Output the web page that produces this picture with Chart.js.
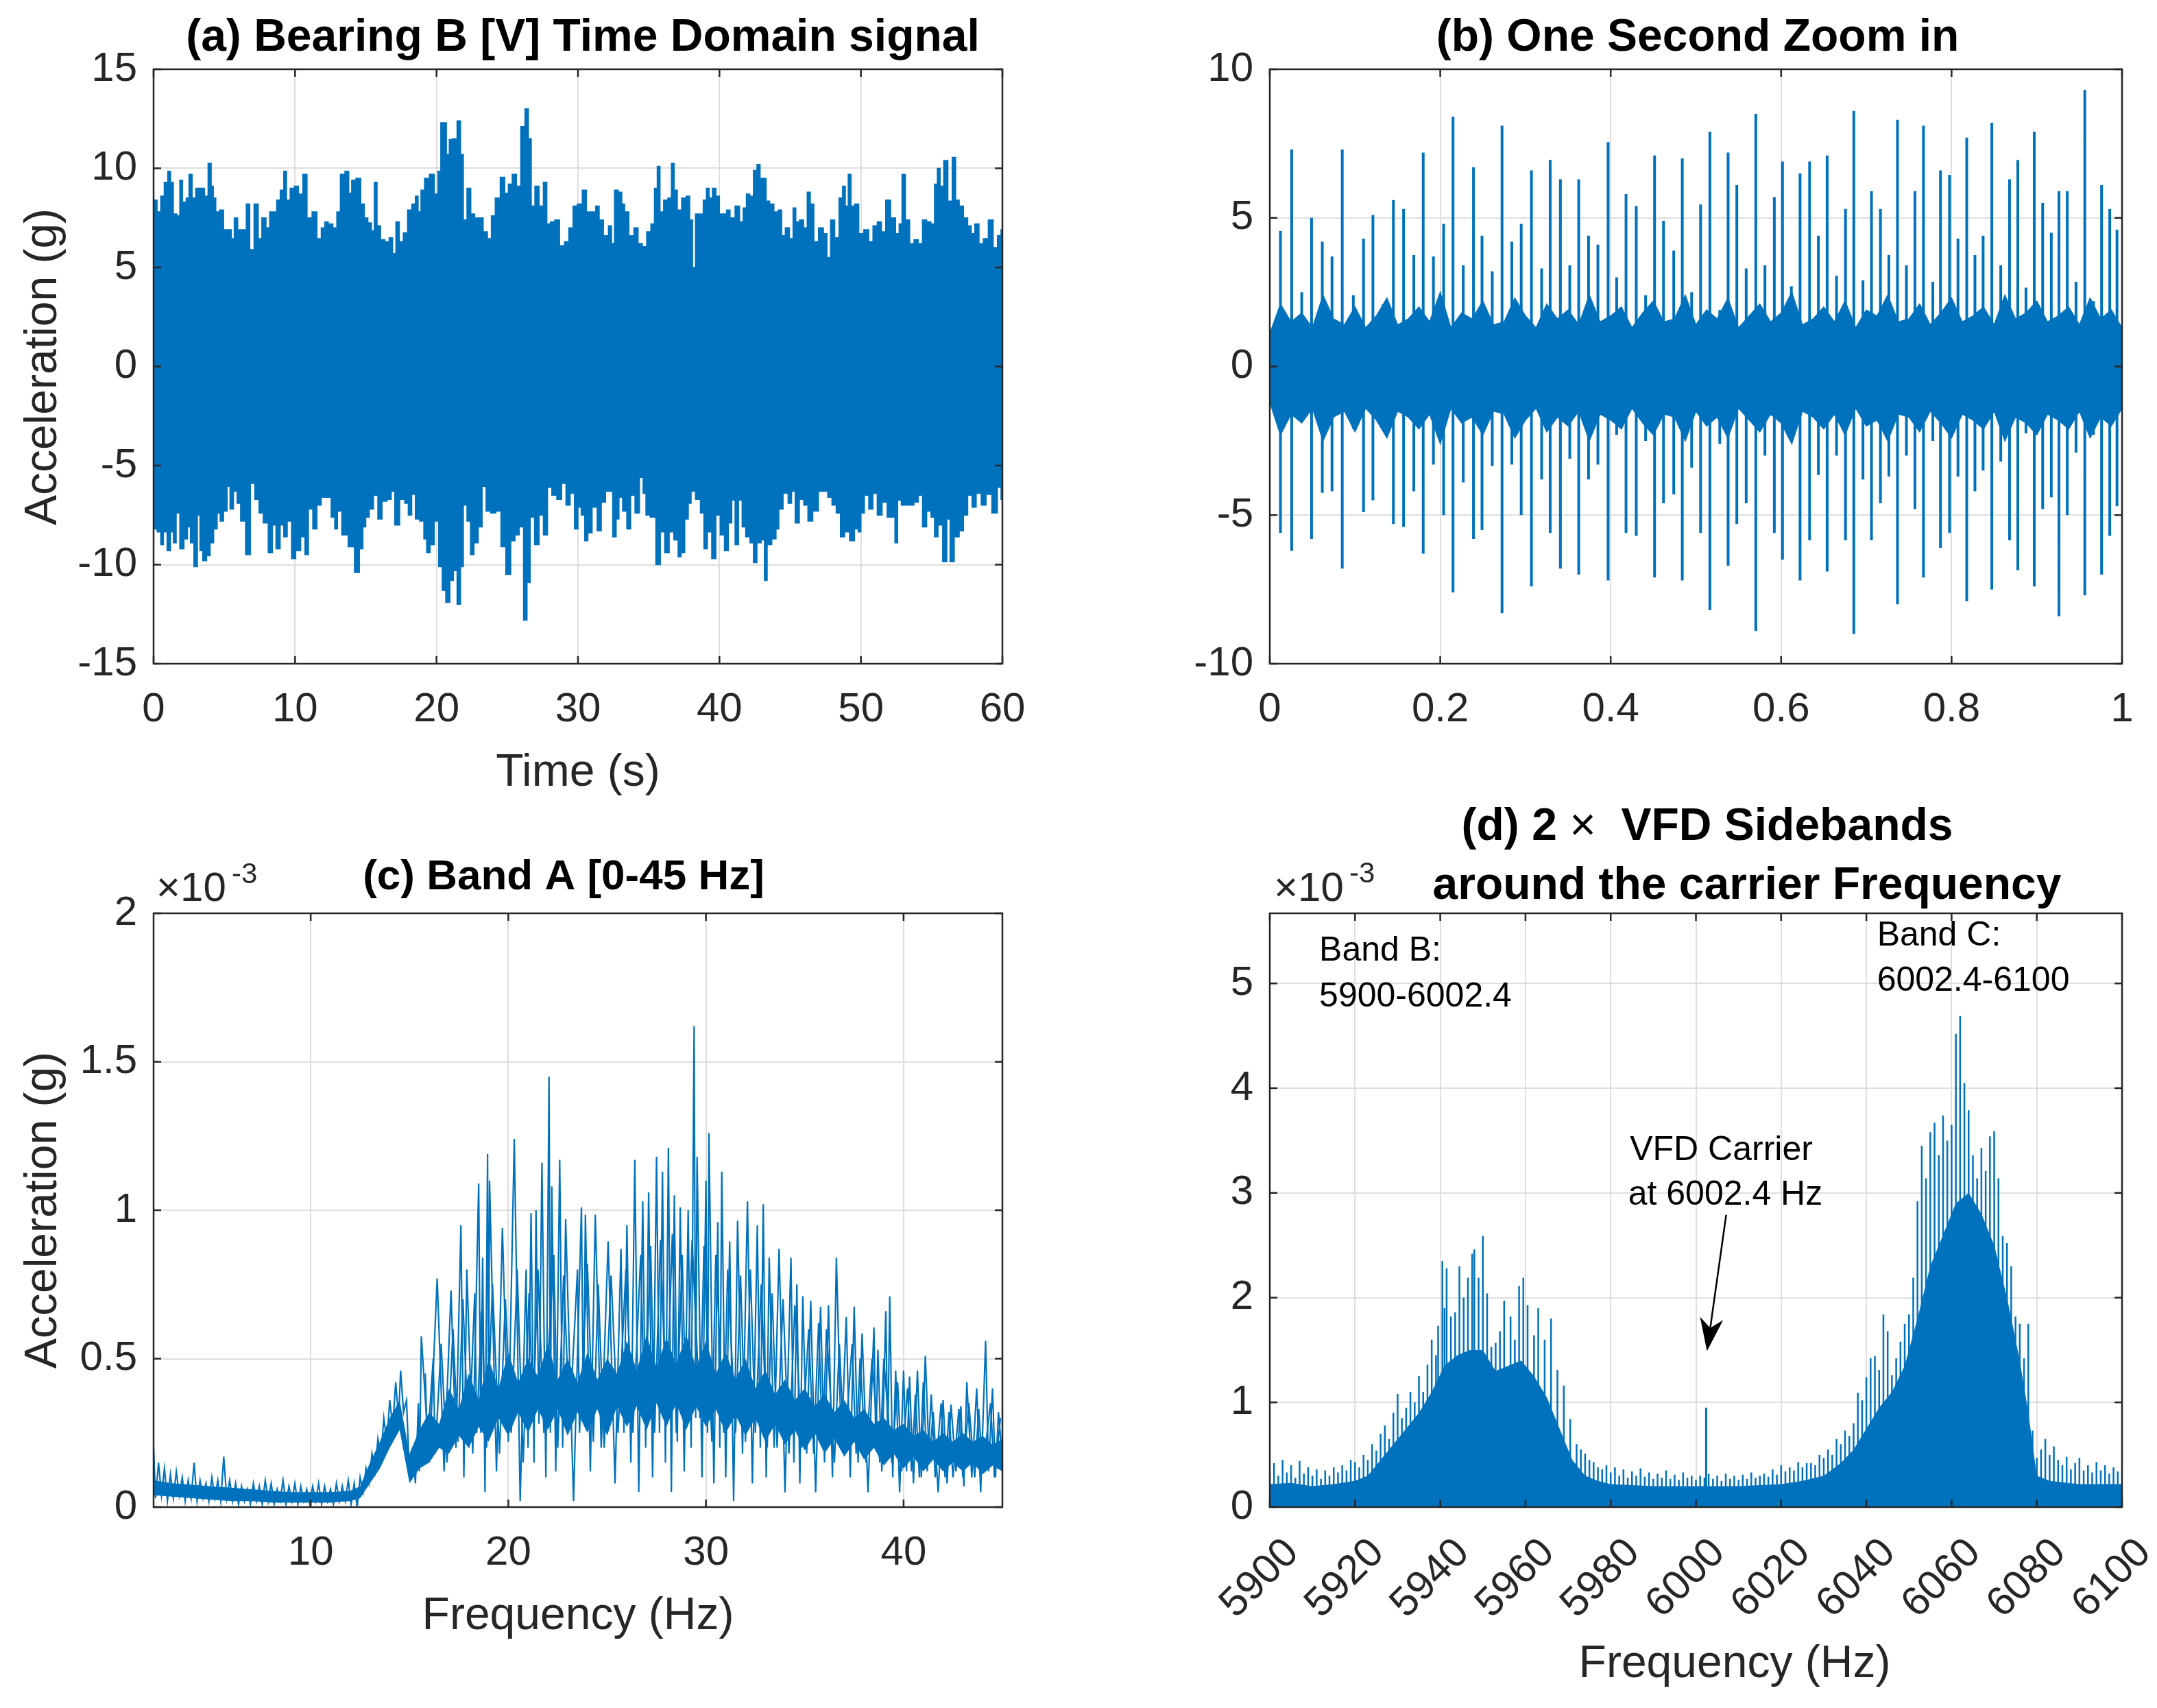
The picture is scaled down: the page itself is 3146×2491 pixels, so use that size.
<!DOCTYPE html>
<html>
<head>
<meta charset="utf-8">
<script src="https://cdn.jsdelivr.net/npm/chart.js@4.4.1/dist/chart.umd.min.js"></script>
<style>
  html, body { margin: 0; padding: 0; background: #fff; }
  body { width: 3146px; height: 2491px; position: relative; overflow: hidden; }
  canvas { position: absolute; }
</style>
</head>
<body>
<canvas id="chartA"></canvas>
<canvas id="chartB"></canvas>
<canvas id="chartC"></canvas>
<canvas id="chartD"></canvas>
<script>
// ---- data ----

// (a) 60 s record: upper / lower envelope of the signal, [time s, acc g]
const aUpper = [[0,7.3],[0.1,8.4],[0.4,7.8],[0.6,8.6],[0.9,9.3],[1.1,9.85],[1.3,9.3],[1.5,7.7],[1.8,7.6],[1.9,9.4],[2.2,8.3],[2.4,8.5],[2.6,9.7],[2.85,8.5],[3.1,9.0],[3.5,9.0],[3.7,8.6],[4.0,10.25],[4.15,9.1],[4.3,8.5],[4.5,7.8],[4.8,7.9],[5.1,6.9],[5.4,6.9],[5.6,6.45],[5.8,7.5],[6.1,6.9],[6.4,6.9],[6.7,8.2],[6.9,5.9],[7.3,8.2],[7.5,6.45],[7.8,7.5],[8.1,7.0],[8.3,7.8],[8.6,7.8],[8.8,8.4],[9.1,8.9],[9.3,9.85],[9.5,8.4],[9.8,9.0],[10.1,9.1],[10.4,8.7],[10.7,9.7],[11.0,7.5],[11.4,7.8],[11.7,6.45],[12.0,7.0],[12.2,7.3],[12.5,7.2],[12.85,7.0],[13.05,7.8],[13.35,9.7],[13.7,9.85],[13.9,8.75],[14.1,9.4],[14.5,9.5],[14.8,8.2],[15.0,7.5],[15.3,7.25],[15.5,6.85],[15.7,9.3],[15.9,7.1],[16.2,6.4],[16.5,6.3],[16.8,6.5],[17.0,5.7],[17.25,7.3],[17.5,6.3],[17.8,6.75],[18.1,7.9],[18.4,8.2],[18.6,8.6],[18.8,7.8],[19.0,8.9],[19.3,9.5],[19.7,9.7],[20.0,8.7],[20.2,9.85],[20.4,12.3],[20.6,12.3],[20.8,10.7],[21.0,11.45],[21.3,11.5],[21.6,12.4],[21.8,10.7],[22.0,7.4],[22.3,9.0],[22.55,7.7],[22.85,7.5],[23.15,7.5],[23.45,6.8],[23.75,6.45],[24.0,7.6],[24.3,8.5],[24.7,9.55],[24.95,8.75],[25.2,9.2],[25.5,9.7],[25.8,9.1],[26.1,12.1],[26.4,13.0],[26.6,11.5],[26.8,8.1],[27.1,9.1],[27.4,8.1],[27.7,9.3],[27.9,7.2],[28.2,7.3],[28.5,7.4],[28.9,6.1],[29.2,6.3],[29.5,7.0],[29.8,8.1],[30.1,8.2],[30.5,8.9],[30.7,7.8],[31.1,7.8],[31.4,8.1],[31.6,7.4],[32.0,6.6],[32.3,7.1],[32.45,6.2],[32.7,8.9],[33.0,8.8],[33.2,8.2],[33.4,7.8],[33.8,6.6],[34.1,7.0],[34.4,6.2],[34.7,6.05],[35.0,6.8],[35.3,7.2],[35.5,9.0],[35.7,10.1],[35.9,7.8],[36.2,8.4],[36.5,8.5],[36.7,10.25],[36.9,8.9],[37.15,7.9],[37.5,8.5],[37.8,8.6],[38.0,7.4],[38.2,5.0],[38.4,7.7],[38.7,7.7],[39.0,8.4],[39.15,9.0],[39.4,8.5],[39.6,9.0],[39.9,8.6],[40.1,7.7],[40.4,7.7],[40.6,7.9],[40.9,7.5],[41.3,8.1],[41.55,7.3],[41.8,8.0],[42.0,8.7],[42.3,8.6],[42.5,9.9],[42.8,10.2],[42.95,9.5],[43.2,9.5],[43.4,8.35],[43.7,8.2],[44.0,7.8],[44.3,7.9],[44.5,6.6],[44.8,7.0],[45.1,6.45],[45.3,8.0],[45.5,7.3],[45.8,7.4],[46.1,7.0],[46.3,8.8],[46.55,8.2],[46.8,6.3],[47.2,7.0],[47.5,6.7],[47.7,5.5],[48.0,7.4],[48.3,6.5],[48.6,8.5],[48.8,9.1],[49.0,8.1],[49.2,9.7],[49.4,8.1],[49.7,8.2],[50.0,6.7],[50.4,6.9],[50.7,6.3],[51.0,7.1],[51.3,7.3],[51.6,6.8],[51.9,8.4],[52.3,7.5],[52.6,6.7],[52.8,7.2],[53.0,9.7],[53.3,7.4],[53.6,6.2],[53.9,6.4],[54.2,6.2],[54.5,7.4],[54.8,7.3],[55.1,7.2],[55.3,9.2],[55.5,10.0],[55.7,9.1],[56.0,10.4],[56.3,8.35],[56.6,10.55],[56.8,8.4],[57.1,8.1],[57.4,7.5],[57.7,7.1],[57.9,6.7],[58.2,7.2],[58.5,6.2],[58.8,6.45],[59.2,7.4],[59.5,6.0],[59.8,6.6],[60,6.9]];
const aLower = [[0,-6.7],[0.1,-8.2],[0.4,-8.35],[0.6,-9.0],[0.8,-8.35],[1.1,-9.3],[1.3,-8.35],[1.5,-8.9],[1.7,-7.4],[2.0,-9.2],[2.3,-8.7],[2.5,-8.1],[2.7,-8.9],[3.0,-10.1],[3.2,-7.5],[3.35,-9.3],[3.6,-9.8],[3.9,-9.55],[4.1,-8.9],[4.4,-8.2],[4.6,-7.4],[4.8,-7.8],[5.1,-7.3],[5.3,-6.05],[5.5,-7.2],[5.8,-6.3],[6.0,-6.9],[6.3,-7.8],[6.7,-9.5],[7.0,-5.9],[7.3,-6.7],[7.6,-7.4],[7.9,-7.9],[8.3,-9.4],[8.5,-8.0],[8.8,-9.2],[9.1,-8.0],[9.3,-8.6],[9.6,-7.8],[9.9,-9.7],[10.2,-9.3],[10.6,-8.6],[10.8,-9.5],[11.1,-7.2],[11.4,-8.2],[11.7,-7.0],[12.0,-6.6],[12.4,-6.6],[12.7,-7.6],[12.9,-8.2],[13.1,-7.3],[13.5,-8.5],[14.0,-9.1],[14.4,-10.4],[14.7,-9.2],[14.9,-8.1],[15.1,-7.6],[15.4,-7.2],[15.7,-6.5],[16.0,-7.7],[16.3,-6.8],[16.7,-6.7],[16.9,-6.3],[17.2,-8.0],[17.6,-6.7],[17.9,-6.9],[18.1,-7.5],[18.4,-6.45],[18.6,-7.7],[19.0,-7.8],[19.2,-8.7],[19.4,-9.4],[19.7,-9.0],[20.0,-7.8],[20.3,-10.1],[20.5,-11.3],[20.8,-11.9],[21.1,-10.8],[21.3,-10.3],[21.6,-12.0],[21.8,-10.1],[22.0,-7.0],[22.3,-7.8],[22.5,-9.5],[22.8,-8.9],[23.1,-8.1],[23.35,-6.05],[23.65,-7.3],[24.0,-7.4],[24.4,-7.3],[24.7,-9.1],[25.1,-10.5],[25.4,-8.8],[25.7,-8.5],[26.0,-8.1],[26.3,-12.8],[26.5,-10.9],[26.75,-7.6],[27.1,-9.0],[27.4,-7.5],[27.7,-8.5],[28.0,-6.1],[28.3,-6.5],[28.7,-6.7],[29.0,-5.9],[29.3,-7.0],[29.6,-6.4],[29.9,-8.2],[30.1,-7.1],[30.35,-7.5],[30.6,-8.8],[30.8,-8.4],[31.2,-7.1],[31.5,-8.3],[31.8,-6.85],[32.1,-6.3],[32.3,-6.3],[32.6,-8.6],[32.8,-7.7],[33.0,-6.6],[33.3,-7.3],[33.6,-8.2],[33.85,-6.5],[34.2,-7.4],[34.5,-5.6],[34.7,-6.4],[34.9,-7.5],[35.3,-7.6],[35.7,-10.0],[35.95,-8.35],[36.3,-9.4],[36.6,-8.35],[36.95,-8.75],[37.2,-9.6],[37.4,-9.4],[37.7,-7.7],[37.9,-6.9],[38.1,-6.3],[38.5,-6.7],[38.8,-7.4],[39.0,-9.2],[39.3,-8.35],[39.6,-9.7],[39.9,-7.5],[40.2,-8.5],[40.5,-9.3],[40.75,-7.9],[41.0,-6.75],[41.2,-9.0],[41.5,-6.75],[41.7,-8.1],[42.0,-8.6],[42.3,-8.9],[42.5,-9.9],[42.8,-8.9],[43.1,-8.75],[43.25,-10.8],[43.5,-9.0],[43.9,-8.7],[44.1,-8.2],[44.3,-7.2],[44.7,-6.4],[45.0,-6.9],[45.2,-6.3],[45.5,-7.9],[45.8,-6.7],[46.1,-7.0],[46.4,-7.8],[46.8,-7.3],[47.2,-6.3],[47.5,-6.3],[47.8,-6.6],[48.1,-7.0],[48.4,-7.4],[48.7,-8.6],[49.0,-8.35],[49.4,-8.8],[49.7,-8.2],[49.9,-8.35],[50.1,-7.4],[50.4,-6.5],[50.7,-7.2],[51.0,-6.4],[51.3,-7.5],[51.7,-6.85],[52.0,-7.6],[52.3,-7.6],[52.5,-8.9],[52.7,-6.75],[53.0,-7.0],[53.3,-7.0],[53.6,-7.0],[53.9,-6.85],[54.2,-6.5],[54.5,-8.1],[54.8,-7.3],[55.1,-7.6],[55.3,-8.6],[55.6,-8.0],[55.95,-9.85],[56.2,-7.7],[56.4,-9.85],[56.8,-8.6],[57.1,-8.3],[57.4,-7.5],[57.7,-6.5],[58.0,-7.1],[58.3,-6.4],[58.7,-7.0],[59.0,-6.45],[59.5,-7.4],[59.8,-6.1],[60,-6.7]];

// (b) one second: fuzzy core band [time, upper, lower] and impulse spikes [time, top, bottom]
const bCore = [[0,1.1,-1.2],[0.0125,2.1,-2.3],[0.025,1.5,-1.6],[0.0375,1.8,-1.9],[0.05,1.3,-1.4],[0.0625,2.4,-2.5],[0.075,1.6,-1.7],[0.0875,1.4,-1.5],[0.1,2.0,-2.2],[0.1125,1.3,-1.4],[0.125,1.7,-1.8],[0.1375,2.3,-2.4],[0.15,1.4,-1.5],[0.1625,1.6,-1.7],[0.175,2.0,-2.1],[0.1875,1.5,-1.6],[0.2,2.5,-2.6],[0.2125,1.3,-1.4],[0.225,1.8,-1.9],[0.2375,1.6,-1.7],[0.25,2.2,-2.3],[0.2625,1.4,-1.5],[0.275,1.5,-1.6],[0.2875,2.3,-2.4],[0.3,1.7,-1.8],[0.3125,1.3,-1.4],[0.325,2.1,-2.2],[0.3375,1.6,-1.7],[0.35,1.9,-2.0],[0.3625,1.4,-1.5],[0.375,2.4,-2.5],[0.3875,1.5,-1.6],[0.4,1.7,-1.8],[0.4125,2.0,-2.1],[0.425,1.3,-1.4],[0.4375,1.8,-1.9],[0.45,2.2,-2.3],[0.4625,1.5,-1.6],[0.475,1.6,-1.7],[0.4875,2.4,-2.5],[0.5,1.4,-1.5],[0.5125,1.9,-2.0],[0.525,1.6,-1.7],[0.5375,2.3,-2.4],[0.55,1.3,-1.4],[0.5625,1.7,-1.8],[0.575,2.1,-2.2],[0.5875,1.5,-1.6],[0.6,1.8,-1.9],[0.6125,2.5,-2.6],[0.625,1.4,-1.5],[0.6375,1.6,-1.7],[0.65,2.0,-2.1],[0.6625,1.5,-1.6],[0.675,2.2,-2.3],[0.6875,1.3,-1.4],[0.7,1.9,-2.0],[0.7125,1.7,-1.8],[0.725,2.4,-2.5],[0.7375,1.5,-1.6],[0.75,1.6,-1.7],[0.7625,2.1,-2.2],[0.775,1.4,-1.5],[0.7875,1.8,-1.9],[0.8,2.3,-2.4],[0.8125,1.5,-1.6],[0.825,1.7,-1.8],[0.8375,2.0,-2.1],[0.85,1.4,-1.5],[0.8625,2.4,-2.5],[0.875,1.6,-1.7],[0.8875,1.8,-1.9],[0.9,2.2,-2.3],[0.9125,1.5,-1.6],[0.925,1.7,-1.8],[0.9375,2.0,-2.1],[0.95,1.4,-1.5],[0.9625,2.3,-2.4],[0.975,1.6,-1.7],[0.9875,1.9,-2.0],[1.0,1.3,-1.4]];
const bSpikes = [[0.0125,4.56,-5.6],[0.0257,7.3,-6.2],[0.0375,2.5,-1.7],[0.049,5.0,-5.8],[0.0616,4.2,-4.25],[0.073,3.7,-4.2],[0.085,7.3,-6.8],[0.098,2.4,-2.1],[0.11,4.3,-4.9],[0.121,5.1,-4.5],[0.133,2.1,-2.0],[0.145,5.6,-5.3],[0.157,5.3,-5.4],[0.169,3.75,-4.2],[0.180,7.2,-6.3],[0.192,3.7,-3.3],[0.204,4.8,-5.0],[0.215,8.4,-7.6],[0.227,3.4,-3.9],[0.239,6.7,-5.8],[0.249,4.4,-5.5],[0.261,3.2,-3.35],[0.2725,8.1,-8.3],[0.284,4.2,-3.3],[0.295,4.8,-5.0],[0.307,6.6,-7.4],[0.319,3.3,-3.8],[0.329,6.95,-5.6],[0.341,6.3,-6.8],[0.352,3.4,-3.1],[0.3625,6.3,-7.0],[0.374,4.4,-3.8],[0.385,4.1,-3.3],[0.397,7.55,-7.2],[0.407,3.0,-2.3],[0.418,5.8,-5.6],[0.430,5.4,-5.7],[0.441,2.4,-2.5],[0.4515,7.1,-7.1],[0.462,4.9,-4.6],[0.474,3.9,-4.3],[0.484,7.0,-7.2],[0.495,2.5,-3.4],[0.5055,5.45,-5.6],[0.5164,7.9,-8.2],[0.528,1.9,-2.6],[0.5378,7.2,-6.7],[0.548,6.1,-5.3],[0.559,3.3,-4.6],[0.5703,8.5,-8.9],[0.581,3.4,-3.0],[0.592,5.7,-5.6],[0.6016,6.9,-6.5],[0.612,2.7,-2.0],[0.6222,6.5,-7.2],[0.6334,6.9,-5.85],[0.6437,4.4,-3.65],[0.654,7.1,-6.9],[0.665,3.05,-3.0],[0.6755,5.3,-5.85],[0.6853,8.6,-9.0],[0.696,2.9,-3.8],[0.706,5.9,-5.85],[0.7165,5.3,-4.6],[0.7264,3.75,-3.7],[0.7365,8.3,-8.0],[0.747,3.4,-3.0],[0.757,5.9,-4.8],[0.767,8.1,-7.1],[0.778,2.85,-2.5],[0.787,6.6,-6.1],[0.7976,6.45,-5.6],[0.8075,4.3,-3.7],[0.8178,7.7,-7.9],[0.8274,3.75,-4.2],[0.837,4.4,-3.5],[0.8472,8.2,-7.5],[0.8577,3.4,-3.2],[0.868,6.3,-5.85],[0.8777,6.95,-6.85],[0.8873,2.65,-2.25],[0.897,7.9,-7.4],[0.9069,5.5,-4.8],[0.917,4.5,-4.4],[0.926,5.9,-8.4],[0.9357,5.9,-5.0],[0.946,2.85,-2.9],[0.9563,9.3,-7.7],[0.9665,2.2,-2.3],[0.976,6.1,-7.0],[0.9856,5.3,-5.7],[0.9941,4.6,-4.7]];

// (c) band A spectrum, amplitude in 1e-3 g: dense core [Hz, upper, lower] and two traces of peaks/dips [Hz, amp]
const cCore = [[2.05,0.09,0.04],[3,0.08,0.035],[4,0.075,0.03],[5,0.07,0.025],[6,0.065,0.02],[7,0.06,0.02],[8,0.055,0.015],[9,0.05,0.015],[10,0.05,0.015],[11,0.05,0.015],[12,0.055,0.02],[12.5,0.07,0.03],[13,0.15,0.08],[13.5,0.22,0.13],[14,0.3,0.2],[14.5,0.36,0.26],[15,0.18,0.08],[15.5,0.26,0.13],[16,0.32,0.15],[16.5,0.28,0.2],[17,0.4,0.18],[17.5,0.33,0.24],[18,0.45,0.2],[18.5,0.36,0.27],[19,0.5,0.22],[19.5,0.4,0.3],[20,0.52,0.24],[20.5,0.42,0.32],[21,0.5,0.25],[21.5,0.44,0.33],[22,0.55,0.26],[22.5,0.43,0.33],[23,0.5,0.24],[23.5,0.42,0.32],[24,0.52,0.25],[24.5,0.43,0.33],[25,0.5,0.24],[25.5,0.45,0.34],[26,0.56,0.27],[26.5,0.46,0.34],[27,0.58,0.26],[27.5,0.47,0.35],[28,0.57,0.27],[28.5,0.48,0.35],[29,0.58,0.26],[29.5,0.47,0.34],[30,0.56,0.27],[30.5,0.45,0.33],[31,0.52,0.25],[31.5,0.43,0.31],[32,0.5,0.24],[32.5,0.4,0.3],[33,0.46,0.22],[33.5,0.38,0.28],[34,0.43,0.21],[34.5,0.36,0.26],[35,0.4,0.19],[35.5,0.34,0.25],[36,0.38,0.18],[36.5,0.32,0.23],[37,0.36,0.17],[37.5,0.3,0.22],[38,0.33,0.16],[38.5,0.28,0.2],[39,0.3,0.14],[39.5,0.26,0.18],[40,0.28,0.13],[40.5,0.24,0.17],[41,0.26,0.12],[41.5,0.22,0.16],[42,0.25,0.12],[42.5,0.22,0.15],[43,0.25,0.12],[43.5,0.22,0.15],[44,0.24,0.11],[44.5,0.21,0.14],[45,0.23,0.12]];
const cTrace = [[2.05,0.20],[2.15,0.03],[2.3,0.15],[2.45,0.04],[2.6,0.13],[2.75,0.02],[2.9,0.11],[3.05,0.03],[3.2,0.12],[3.35,0.04],[3.5,0.10],[3.65,0.02],[3.8,0.09],[3.95,0.03],[4.1,0.15],[4.25,0.02],[4.4,0.09],[4.55,0.03],[4.7,0.08],[4.85,0.02],[5.0,0.10],[5.15,0.03],[5.3,0.09],[5.45,0.02],[5.6,0.17],[5.75,0.03],[5.9,0.09],[6.05,0.02],[6.2,0.08],[6.35,0.01],[6.5,0.07],[6.65,0.02],[6.8,0.06],[6.95,0.01],[7.1,0.08],[7.25,0.02],[7.4,0.07],[7.55,0.01],[7.7,0.09],[7.85,0.02],[8.0,0.08],[8.15,0.01],[8.3,0.06],[8.45,0.02],[8.6,0.09],[8.75,0.01],[8.9,0.07],[9.05,0.02],[9.2,0.08],[9.35,0.01],[9.5,0.07],[9.65,0.02],[9.8,0.06],[9.95,0.01],[10.1,0.07],[10.25,0.02],[10.4,0.08],[10.55,0.01],[10.7,0.07],[10.85,0.02],[11.0,0.06],[11.15,0.01],[11.3,0.08],[11.45,0.02],[11.6,0.07],[11.75,0.02],[11.9,0.09],[12.05,0.01],[12.2,0.08],[12.35,0.0],[12.5,0.10],[12.65,0.05],[12.8,0.13],[12.95,0.08],[13.1,0.18],[13.25,0.12],[13.4,0.23],[13.55,0.17],[13.7,0.30],[13.85,0.22],[14.0,0.36],[14.15,0.27],[14.3,0.42],[14.45,0.30],[14.55,0.46],[14.7,0.32],[14.85,0.36],[15.0,0.10],[15.15,0.20],[15.3,0.08],[15.45,0.35],[15.5,0.12],
  [15.6,0.575],[16.0,0.15],[16.4,0.77],[16.75,0.12],[17.1,0.73],[17.35,0.2],[17.6,0.95],[17.75,0.1],[17.9,0.8],[18.2,0.18],[18.5,1.09],[18.6,0.25],[18.7,0.84],[18.82,0.05],[18.95,1.19],[19.0,0.3],[19.05,1.1],[19.4,0.12],[19.7,0.94],[20.0,0.22],[20.3,1.24],[20.6,0.02],[20.9,0.8],[21.0,0.2],[21.15,0.99],[21.3,0.15],[21.4,1.0],[21.55,0.28],[21.7,1.16],[21.9,0.1],[22.06,1.45],[22.13,0.25],[22.2,1.08],[22.4,0.12],[22.6,1.17],[22.75,0.2],[22.9,0.97],[23.3,0.02],[23.7,1.01],[23.8,0.3],[23.9,0.985],[24.15,0.12],[24.4,0.985],[24.7,0.2],[25.05,0.895],[25.4,0.08],[25.7,0.87],[25.85,0.25],[26.0,0.95],[26.2,0.15],[26.4,1.17],[26.6,0.05],[26.8,1.03],[26.95,0.2],[27.1,1.06],[27.3,0.1],[27.5,1.18],[27.65,0.25],[27.8,1.13],[27.95,0.15],[28.1,1.21],[28.25,0.05],[28.4,1.05],[28.55,0.22],[28.7,1.01],[28.9,0.12],[29.1,1.0],[29.25,0.2],[29.4,1.62],[29.48,0.3],[29.55,1.18],[29.8,0.1],[30.0,1.10],[30.08,0.25],[30.15,1.26],[30.4,0.08],[30.6,0.96],[30.7,0.2],[30.8,1.13],[31.0,0.1],[31.2,0.895],[31.4,0.02],[31.6,0.965],[31.85,0.18],[32.1,1.03],[32.35,0.08],[32.6,0.95],[32.75,0.2],[32.9,1.02],[33.05,0.1],[33.2,0.84],[33.45,0.2],[33.7,0.87],[34.0,0.05],[34.3,0.84],[34.45,0.15],[34.6,0.75],[34.75,0.08],[34.9,0.71],[35.1,0.18],[35.3,0.695],[35.55,0.05],[35.8,0.675],[36.0,0.15],[36.2,0.68],[36.4,0.1],[36.6,0.84],[36.85,0.2],[37.1,0.64],[37.3,0.1],[37.5,0.675],[37.7,0.15],[37.9,0.585],[38.2,0.05],[38.5,0.605],[38.6,0.2],[38.7,0.53],[38.9,0.12],[39.1,0.66],[39.2,0.2],[39.3,0.71],[39.45,0.1],[39.6,0.46],[39.8,0.05],[40.0,0.46],[40.15,0.12],[40.3,0.44],[40.5,0.08],[40.7,0.46],[40.9,0.1],[41.1,0.51],[41.3,0.15],[41.5,0.32],[41.75,0.05],[42.0,0.36],[42.2,0.08],[42.4,0.345],[42.65,0.12],[42.9,0.34],[43.05,0.07],[43.2,0.42],[43.45,0.1],[43.7,0.40],[43.9,0.05],[44.15,0.56],[44.3,0.12],[44.5,0.40],[44.65,0.1],[44.8,0.32],[45.0,0.16]];
const cTrace2 = [[15.8,0.45],[15.9,0.2],[16.2,0.5],[16.3,0.18],[16.6,0.55],[16.9,0.15],[17.2,0.6],[17.45,0.22],[17.7,0.7],[18.0,0.2],[18.3,0.72],[18.4,0.25],[18.65,0.66],[18.9,0.2],[19.2,0.75],[19.55,0.18],[19.85,0.7],[20.15,0.25],[20.45,0.8],[20.75,0.15],[21.05,0.72],[21.25,0.3],[21.5,0.8],[21.8,0.25],[22.3,0.85],[22.5,0.2],[22.8,0.78],[23.1,0.28],[23.5,0.8],[23.6,0.25],[24.0,0.82],[24.3,0.22],[24.55,0.75],[24.85,0.2],[25.2,0.78],[25.55,0.25],[25.95,0.8],[26.3,0.25],[26.7,0.85],[26.9,0.28],[27.2,0.88],[27.4,0.25],[27.7,0.9],[28.0,0.3],[28.3,0.92],[28.5,0.25],[28.8,0.85],[29.0,0.28],[29.3,0.9],[29.7,0.3],[29.9,0.88],[30.3,0.22],[30.5,0.85],[30.9,0.25],[31.1,0.8],[31.5,0.25],[31.75,0.78],[32.0,0.22],[32.25,0.8],[32.5,0.25],[32.8,0.75],[33.1,0.2],[33.35,0.72],[33.6,0.2],[33.9,0.7],[34.2,0.18],[34.5,0.68],[34.85,0.2],[35.2,0.6],[35.45,0.18],[35.7,0.62],[35.9,0.2],[36.1,0.6],[36.5,0.15],[36.75,0.55],[37.0,0.18],[37.4,0.55],[37.6,0.18],[37.8,0.5],[38.1,0.15],[38.4,0.5],[38.8,0.15],[39.0,0.5],[39.4,0.15],[39.7,0.42],[39.9,0.12],[40.2,0.4],[40.4,0.12],[40.6,0.38],[40.8,0.1],[41.0,0.42],[41.2,0.12],[41.4,0.38],[41.6,0.1],[41.9,0.35],[42.1,0.1],[42.3,0.32],[42.5,0.1],[42.8,0.33],[43.0,0.1],[43.3,0.35],[43.6,0.1],[43.8,0.33],[44.0,0.12],[44.4,0.35],[44.6,0.1],[44.9,0.3]];

// (d) sidebands around the carrier, amplitude in 1e-3 g: peak trace [Hz, amp], dense solid part [Hz, amp], carrier line
const dUpper = [[5900,0.35],[5901,0.42],[5902,0.3],[5903,0.45],[5904,0.33],[5905,0.4],[5906,0.28],[5907,0.44],[5908,0.32],[5909,0.38],[5910,0.3],[5911,0.36],[5912,0.27],[5913,0.35],[5914,0.3],[5915,0.38],[5916,0.33],[5917,0.4],[5918,0.35],[5919,0.45],[5920,0.43],[5921,0.38],[5922,0.5],[5923,0.45],[5924,0.6],[5925,0.54],[5926,0.7],[5927,0.78],[5928,0.65],[5929,0.9],[5930,1.08],[5931,0.85],[5932,0.95],[5933,1.1],[5934,1.0],[5935,1.25],[5936,1.1],[5937,1.36],[5938,1.6],[5939,1.45],[5939.5,1.73],[5940.5,2.35],[5941,1.9],[5941.5,2.28],[5942.5,1.82],[5943.5,1.86],[5944.5,2.3],[5945.5,2.0],[5946.5,2.19],[5947.5,2.42],[5948,2.46],[5949,2.19],[5950,2.59],[5951,2.04],[5952,1.53],[5953,1.57],[5954,1.68],[5955,1.97],[5956.5,1.82],[5957.5,1.6],[5958.5,2.11],[5959.5,2.19],[5960.5,1.93],[5962,1.64],[5963,1.9],[5964.5,1.6],[5966,1.8],[5967.5,1.31],[5969,1.16],[5970.5,0.84],[5972,0.6],[5973,0.55],[5974,0.51],[5975,0.45],[5976,0.43],[5977,0.38],[5978,0.36],[5979,0.4],[5980,0.33],[5981,0.38],[5982,0.3],[5983,0.36],[5984,0.28],[5985,0.34],[5986,0.3],[5987,0.37],[5988,0.29],[5989,0.33],[5990,0.27],[5991,0.32],[5992,0.28],[5993,0.35],[5994,0.27],[5995,0.31],[5996,0.26],[5997,0.33],[5998,0.28],[5999,0.3],[6000,0.26],[6001,0.3],[6002,0.28],[6003,0.32],[6004,0.27],[6005,0.3],[6006,0.25],[6007,0.32],[6008,0.27],[6009,0.3],[6010,0.26],[6011,0.31],[6012,0.27],[6013,0.33],[6014,0.28],[6015,0.3],[6016,0.32],[6017,0.29],[6018,0.36],[6019,0.31],[6020,0.4],[6021,0.34],[6022,0.38],[6023,0.35],[6024,0.43],[6025,0.38],[6026,0.42],[6027,0.42],[6028,0.4],[6029,0.5],[6030,0.47],[6031,0.55],[6032,0.5],[6033,0.65],[6034,0.6],[6035,0.73],[6036,0.68],[6037,0.8],[6038,1.09],[6039,1.02],[6040,1.24],[6041,1.42],[6042,1.44],[6043,1.31],[6044,1.84],[6045,1.68],[6046,1.26],[6047,1.42],[6048,1.58],[6049,1.75],[6050,1.84],[6051,2.19],[6052,2.92],[6053,3.45],[6054,3.14],[6055,3.58],[6056,3.67],[6057,3.36],[6058,3.74],[6059,3.5],[6060,3.65],[6061,4.52],[6062,4.69],[6063,4.05],[6064,3.79],[6065,3.36],[6066,3.14],[6067,3.43],[6068,3.21],[6069,3.54],[6070,3.59],[6071,3.14],[6072,2.59],[6073,2.52],[6074,2.3],[6075,1.82],[6076,1.75],[6077,1.42],[6078,1.75],[6079,0.73],[6080,0.47],[6081,0.55],[6082,0.65],[6083,0.5],[6084,0.58],[6085,0.45],[6086,0.4],[6087,0.48],[6088,0.36],[6089,0.42],[6090,0.47],[6091,0.35],[6092,0.4],[6093,0.33],[6094,0.43],[6095,0.35],[6096,0.4],[6097,0.32],[6098,0.38],[6099,0.34],[6100,0.36]];
const dSolid = [[5900,0.22],[5905,0.23],[5910,0.2],[5915,0.22],[5920,0.25],[5923,0.3],[5926,0.45],[5929,0.6],[5932,0.75],[5935,0.9],[5938,1.1],[5941,1.35],[5944,1.45],[5947,1.5],[5950,1.5],[5953,1.3],[5956,1.35],[5959,1.4],[5962,1.25],[5965,1.05],[5968,0.75],[5971,0.45],[5974,0.3],[5977,0.25],[5980,0.22],[5990,0.2],[6000,0.2],[6010,0.2],[6020,0.22],[6025,0.25],[6030,0.3],[6034,0.42],[6037,0.55],[6040,0.75],[6043,0.95],[6046,1.1],[6049,1.35],[6052,1.8],[6055,2.3],[6058,2.6],[6061,2.9],[6064,3.0],[6067,2.8],[6070,2.5],[6073,2.0],[6076,1.4],[6078,0.9],[6080,0.3],[6083,0.25],[6090,0.22],[6100,0.22]];
const dCarrier = [[6002.4,0.1],[6002.4,0.95]];

// tick values
const timeTicks = [0, 10, 20, 30, 40, 50, 60];
const accTicksA = [-15, -10, -5, 0, 5, 10, 15];
const zoomTicks = [0, 0.2, 0.4, 0.6, 0.8, 1];
const accTicksB = [-10, -5, 0, 5, 10];
const freqTicksC = [10, 20, 30, 40];
const ampTicksC = [0, 0.5, 1, 1.5, 2];
const freqTicksD = [5900, 5920, 5940, 5960, 5980, 6000, 6020, 6040, 6060, 6080, 6100];
const ampTicksD = [0, 1, 2, 3, 4, 5];

// ---- drawing ----
const FONT = '"Liberation Sans", Arial, Helvetica, sans-serif';
const BLUE = '#0072BD';
const AXIS = '#262626';
const GRID = '#dedede';
const TICK = 11;

const pts = (arr, k) => arr.map(p => ({ x: p[0], y: p[k || 1] }));

// vertical strokes: from p[1] down to p[2] (or to the axis when there is no p[2])
function stems(arr) {
  const out = [];
  arr.forEach(s => { out.push({ x: s[0], y: s[1] }, { x: s[0], y: s.length > 2 ? s[2] : 0 }, { x: s[0], y: null }); });
  return out;
}

function axis(kind, s, size) {
  return {
    type: 'linear', min: s.min, max: s.max,
    grid: { color: GRID, lineWidth: 2, drawTicks: false },
    border: { display: false },
    ticks: {
      color: AXIS, font: { family: FONT, size: 60 }, padding: s.pad,
      minRotation: s.rot || 0, maxRotation: s.rot || 0, labelOffset: s.offset || 0,
      autoSkip: false, callback: v => String(v)
    },
    afterBuildTicks: sc => { sc.ticks = s.ticks.map(v => ({ value: v })); },
    afterFit: sc => {
      if (kind === 'x') sc.height = size; else sc.width = size;
      sc.paddingLeft = sc.paddingRight = sc.paddingTop = sc.paddingBottom = 0;
    }
  };
}

function drawText(ctx, t) {
  ctx.save();
  ctx.fillStyle = t.color || AXIS;
  ctx.font = (t.bold ? 'bold ' : '') + t.size + 'px ' + FONT;
  ctx.textAlign = t.align || 'center';
  ctx.textBaseline = t.base || 'alphabetic';
  ctx.translate(t.x, t.y);
  if (t.rot) ctx.rotate(t.rot);
  ctx.fillText(t.text, 0, 0);
  ctx.restore();
}

function framePlugin(box, extra) {
  return {
    id: 'frame',
    afterDraw(chart) {
      const ctx = chart.ctx, a = chart.chartArea, xs = chart.scales.x, ys = chart.scales.y;
      ctx.save();
      ctx.strokeStyle = AXIS;
      ctx.lineWidth = 2.5;
      ctx.beginPath();
      xs.ticks.forEach(t => {
        const p = xs.getPixelForValue(t.value);
        ctx.moveTo(p, a.bottom); ctx.lineTo(p, a.bottom - TICK);
        ctx.moveTo(p, a.top); ctx.lineTo(p, a.top + TICK);
      });
      ys.ticks.forEach(t => {
        const p = ys.getPixelForValue(t.value);
        ctx.moveTo(a.left, p); ctx.lineTo(a.left + TICK, p);
        ctx.moveTo(a.right, p); ctx.lineTo(a.right - TICK, p);
      });
      ctx.stroke();
      ctx.strokeRect(a.left, a.top, a.right - a.left, a.bottom - a.top);
      ctx.restore();
      ctx.save();
      ctx.translate(-box.x, -box.y);
      (box.texts || []).forEach(t => drawText(ctx, t));
      ctx.restore();
      if (extra) extra(chart);
    }
  };
}

function panel(id, box, area, xOpt, yOpt, datasets, extra) {
  const cv = document.getElementById(id);
  cv.width = box.w; cv.height = box.h;
  cv.style.left = box.x + 'px'; cv.style.top = box.y + 'px';
  return new Chart(cv, {
    type: 'line',
    data: { datasets },
    options: {
      responsive: false, animation: false, devicePixelRatio: 1,
      layout: { autoPadding: false, padding: { top: area.top - box.y, right: box.x + box.w - area.right, left: 0, bottom: 0 } },
      plugins: { legend: { display: false }, tooltip: { enabled: false } },
      elements: { point: { radius: 0 }, line: { tension: 0 } },
      scales: { x: axis('x', xOpt, box.y + box.h - area.bottom), y: axis('y', yOpt, area.left - box.x) }
    },
    plugins: [framePlugin(box, extra)]
  });
}

function band(data, k, fill, stepped) {
  return { data: pts(data, k), borderColor: BLUE, backgroundColor: BLUE, borderWidth: 1.5, fill, stepped: stepped || false };
}
const hidden = 'rgba(0,0,0,0)';

const yLabel = (x, y) => ({ text: 'Acceleration (g)', x, y, size: 66, base: 'middle', rot: -Math.PI / 2 });

// (a)
panel('chartA',
  { x: 0, y: 0, w: 1570, h: 1160, texts: [
    { text: '(a) Bearing B [V] Time Domain signal', x: 850, y: 74, size: 66, bold: true, color: '#000' },
    { text: 'Time (s)', x: 843, y: 1146, size: 66 },
    yLabel(64, 535)
  ] },
  { left: 224, top: 101, right: 1462, bottom: 968 },
  { min: 0, max: 60, ticks: timeTicks, pad: 31 },
  { min: -15, max: 15, ticks: accTicksA, pad: 24 },
  [band(aUpper, 1, { value: -2 }, 'middle'), band(aLower, 1, { value: 2 }, 'middle')]);

// (b)
panel('chartB',
  { x: 1570, y: 0, w: 1576, h: 1160, texts: [
    { text: '(b) One Second Zoom in', x: 2476, y: 74, size: 66, bold: true, color: '#000' }
  ] },
  { left: 1852, top: 101, right: 3095, bottom: 968 },
  { min: 0, max: 1, ticks: zoomTicks, pad: 31 },
  { min: -10, max: 10, ticks: accTicksB, pad: 24 },
  [band(bCore, 1, { value: -1 }), band(bCore, 2, { value: 1 }),
   { data: stems(bSpikes), borderColor: BLUE, borderWidth: 4, fill: false, spanGaps: false }]);

// (c)
panel('chartC',
  { x: 0, y: 1160, w: 1570, h: 1331, texts: [
    { text: '(c) Band A [0-45 Hz]', x: 822, y: 1297, size: 62, bold: true, color: '#000' },
    { text: '\u00d710', x: 228, y: 1314, size: 60, align: 'left' },
    { text: '-3', x: 338, y: 1288, size: 42, align: 'left' },
    { text: 'Frequency (Hz)', x: 843, y: 2376, size: 66 },
    yLabel(64, 1765)
  ] },
  { left: 224, top: 1332, right: 1462, bottom: 2198 },
  { min: 2.05, max: 45, ticks: freqTicksC, pad: 31 },
  { min: 0, max: 2, ticks: ampTicksC, pad: 24 },
  [{ data: pts(cCore, 2), borderColor: hidden, borderWidth: 1, fill: false },
   { data: pts(cCore, 1), borderColor: hidden, backgroundColor: BLUE, borderWidth: 1, fill: '-1' },
   { data: pts(cTrace2), borderColor: BLUE, borderWidth: 2.2, fill: false },
   { data: pts(cTrace), borderColor: BLUE, borderWidth: 2.2, fill: false }]);

// (d)
const dNotes = [
  { text: 'Band B:', f: 5911.6, a: 5.22 },
  { text: '5900-6002.4', f: 5911.6, a: 4.78 },
  { text: 'Band C:', f: 6042.5, a: 5.36 },
  { text: '6002.4-6100', f: 6042.5, a: 4.93 },
  { text: 'VFD Carrier', f: 5984.5, a: 3.31 },
  { text: 'at 6002.4 Hz', f: 5984.1, a: 2.89 }
];
const dArrow = { from: [6007.1, 2.79], to: [6002.6, 1.49] };

function drawDExtras(chart) {
  const ctx = chart.ctx, xs = chart.scales.x, ys = chart.scales.y, a = chart.chartArea;
  const ox = 1570, oy = 1160;
  ctx.save();
  // two-line title with a regular-weight times sign
  ctx.fillStyle = '#000';
  ctx.textBaseline = 'alphabetic';
  const segs = [['(d) 2', true], [' \u00d7', false], ['  VFD Sidebands', true]];
  const widths = segs.map(s => { ctx.font = (s[1] ? 'bold ' : '') + '66px ' + FONT; return ctx.measureText(s[0]).width; });
  let x = 2490 - ox - widths.reduce((p, c) => p + c, 0) / 2;
  segs.forEach((s, i) => {
    ctx.font = (s[1] ? 'bold ' : '') + '66px ' + FONT;
    ctx.textAlign = 'left';
    ctx.fillText(s[0], x, 1225 - oy);
    x += widths[i];
  });
  ctx.font = 'bold 66px ' + FONT;
  ctx.textAlign = 'center';
  ctx.fillText('around the carrier Frequency', 2548 - ox, 1311 - oy);
  // x axis title, below the rotated tick labels
  ctx.fillStyle = AXIS;
  ctx.font = '66px ' + FONT;
  ctx.fillText('Frequency (Hz)', 2530 - ox, a.bottom + 248);
  // annotations
  ctx.fillStyle = '#000';
  ctx.font = '50px ' + FONT;
  ctx.textAlign = 'left';
  dNotes.forEach(n => ctx.fillText(n.text, xs.getPixelForValue(n.f), ys.getPixelForValue(n.a)));
  // arrow
  const x0 = xs.getPixelForValue(dArrow.from[0]), y0 = ys.getPixelForValue(dArrow.from[1]);
  const x1 = xs.getPixelForValue(dArrow.to[0]), y1 = ys.getPixelForValue(dArrow.to[1]);
  const ang = Math.atan2(y1 - y0, x1 - x0);
  const L = 48, W = 17, N = 34;
  const bx = x1 - N * Math.cos(ang), by = y1 - N * Math.sin(ang);
  ctx.strokeStyle = '#000';
  ctx.lineWidth = 2.5;
  ctx.beginPath(); ctx.moveTo(x0, y0); ctx.lineTo(bx, by); ctx.stroke();
  ctx.beginPath();
  ctx.moveTo(x1, y1);
  ctx.lineTo(x1 - L * Math.cos(ang) + W * Math.sin(ang), y1 - L * Math.sin(ang) - W * Math.cos(ang));
  ctx.lineTo(bx, by);
  ctx.lineTo(x1 - L * Math.cos(ang) - W * Math.sin(ang), y1 - L * Math.sin(ang) + W * Math.cos(ang));
  ctx.closePath();
  ctx.fill();
  ctx.restore();
}

panel('chartD',
  { x: 1570, y: 1160, w: 1576, h: 1331, texts: [
    { text: '\u00d710', x: 1858, y: 1314, size: 60, align: 'left' },
    { text: '-3', x: 1968, y: 1287, size: 42, align: 'left' }
  ] },
  { left: 1852, top: 1332, right: 3095, bottom: 2198 },
  { min: 5900, max: 6100, ticks: freqTicksD, pad: 32, rot: 45, offset: 33 },
  { min: 0, max: 5.67, ticks: ampTicksD, pad: 24 },
  [{ data: pts(dSolid), borderColor: hidden, backgroundColor: BLUE, borderWidth: 1, fill: 'origin' },
   { data: stems(dUpper), borderColor: BLUE, borderWidth: 2.5, fill: false, spanGaps: false },
   { data: pts(dCarrier), borderColor: BLUE, borderWidth: 3, fill: false }],
  drawDExtras);
</script>
</body>
</html>
